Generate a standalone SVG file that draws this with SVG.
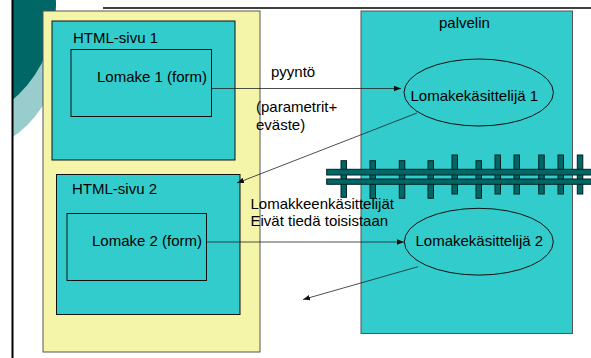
<svg xmlns="http://www.w3.org/2000/svg" width="591" height="358" viewBox="0 0 591 358">
<defs>
<style>
text{font-family:"Liberation Sans",Arial,sans-serif;font-size:15px;fill:#000}
.box{fill:#33CCCC;stroke:#111;stroke-width:1}
.conn{stroke:#222;stroke-width:0.8;fill:none;marker-end:url(#ah)}
.post{fill:#006666;stroke:#002222;stroke-width:1}
</style>
<marker id="ah" viewBox="0 0 10 10" refX="10" refY="5" markerWidth="7" markerHeight="7" markerUnits="userSpaceOnUse" orient="auto">
<path d="M0,1 L10,5 L0,9 Z" fill="#111"/>
</marker>
</defs>
<rect width="591" height="358" fill="#fff"/>
<g id="decoration">
<circle cx="-52.5" cy="45" r="113" fill="#99CCCC"/>
<circle cx="-70" cy="5" r="126" fill="#006666"/>
<rect x="0" y="0" width="12" height="358" fill="#fff"/>
<line x1="12.5" y1="0" x2="12.5" y2="358" stroke="#000" stroke-width="2"/>
<line x1="103" y1="8" x2="591" y2="8" stroke="#000" stroke-width="1.5"/>
</g>
<g id="browser">
<rect x="43" y="11" width="217" height="341" fill="#F5F5AA" stroke="#555" stroke-width="1"/>
</g>
<g id="html1">
<rect class="box" x="52" y="21" width="183" height="139"/>
<text x="73" y="43">HTML-sivu 1</text>
</g>
<g id="form1">
<rect class="box" x="71" y="49.5" width="140.5" height="67"/>
<text x="97" y="82">Lomake 1 (form)</text>
</g>
<g id="html2">
<rect class="box" x="56.5" y="174.5" width="183.5" height="140"/>
<text x="72" y="194">HTML-sivu 2</text>
</g>
<g id="form2">
<rect class="box" x="67" y="213.5" width="139.5" height="67"/>
<text x="92" y="246">Lomake 2 (form)</text>
</g>
<g id="server">
<rect x="361" y="11" width="211.5" height="322.5" fill="#33CCCC" stroke="#555" stroke-width="1"/>
<text x="439" y="28">palvelin</text>
</g>
<g id="handler1">
<ellipse cx="478.7" cy="92.5" rx="74.7" ry="33.5" fill="#33CCCC" stroke="#111" stroke-width="1"/>
<text x="410.5" y="101">Lomakekäsittelijä 1</text>
</g>
<g id="handler2">
<ellipse cx="478.8" cy="241.7" rx="74.5" ry="33.4" fill="#33CCCC" stroke="#111" stroke-width="1"/>
<text x="415.5" y="246">Lomakekäsittelijä 2</text>
</g>
<g id="fence">
<rect class="post" x="341" y="160.7" width="5.5" height="36.6"/>
<rect class="post" x="370" y="160.7" width="5.5" height="37.6"/>
<rect class="post" x="399.3" y="160.7" width="5.5" height="37.6"/>
<rect class="post" x="428" y="160.7" width="5.5" height="37.6"/>
<rect class="post" x="452" y="155" width="5.5" height="39"/>
<rect class="post" x="476" y="160.7" width="5.5" height="37.6"/>
<rect class="post" x="495" y="155" width="5.5" height="39"/>
<rect class="post" x="514" y="155" width="5.5" height="39"/>
<rect class="post" x="538.7" y="155" width="5.5" height="39"/>
<rect class="post" x="558" y="155" width="5.5" height="39"/>
<rect class="post" x="577.3" y="155" width="5.5" height="39"/>
<rect class="post" x="326.7" y="169.3" width="270" height="5.7"/>
<rect class="post" x="326.7" y="179" width="270" height="5.3"/>
</g>
<g id="connectors">
<line class="conn" x1="211.5" y1="88.5" x2="401" y2="88.5"/>
<line class="conn" x1="417" y1="113" x2="237" y2="183"/>
<line class="conn" x1="206.5" y1="242" x2="404" y2="242"/>
<line class="conn" x1="418" y1="266.7" x2="303" y2="299.5"/>
</g>
<g id="labels">
<text x="271" y="77">pyyntö</text>
<text x="256" y="112">(parametrit+</text>
<text x="256" y="130">eväste)</text>
<text x="250.5" y="208.5">Lomakkeenkäsittelijät</text>
<text x="250.5" y="226">Eivät tiedä toisistaan</text>
</g>
</svg>
